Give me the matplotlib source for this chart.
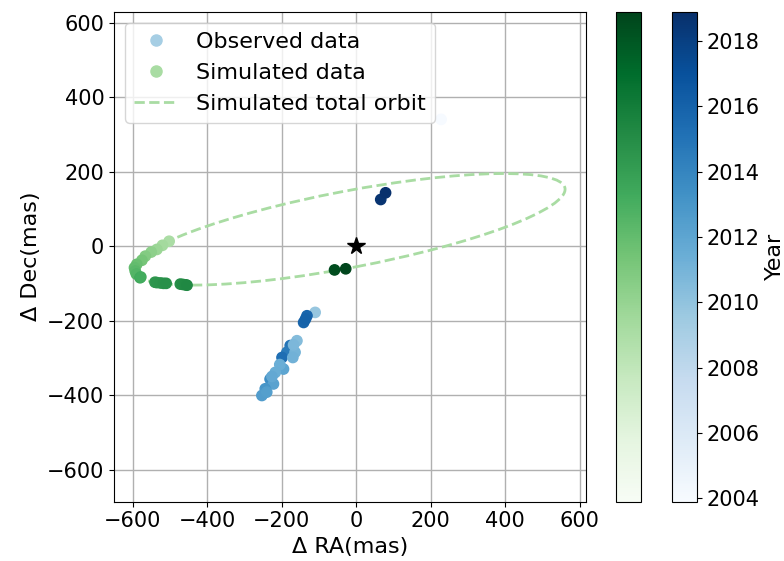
import matplotlib
matplotlib.use("Agg")
import matplotlib.pyplot as plt
from matplotlib.patches import Ellipse
from matplotlib.lines import Line2D
import numpy as np

# Observed data (Delta RA, Delta Dec in mas) with epochs
obs_ra = [-110, 228, 66, 79, -132, -141, -136, -159, -177, -186, -199, -164, -170,
          -168, -195, -205, -217, -231, -222, -244, -253, -240, -226]
obs_dec = [-178, 340, 125, 143, -187, -205, -196, -254, -267, -285, -299, -285, -299,
           -265, -330, -318, -339, -357, -370, -383, -401, -392, -350]
obs_year = [2009.8, 2004.0, 2018.6, 2018.8, 2015.8, 2015.9, 2016.0, 2010.5, 2015.0, 2014.6,
            2015.3, 2011.0, 2011.2, 2010.8, 2012.0, 2011.4, 2011.5, 2013.5, 2012.2, 2013.0,
            2012.6, 2012.4, 2011.8]

# Simulated data
sim_ra = [-502, -520, -535, -550, -566, -575, -589, -595, -593, -590, -580,
          -578, -540, -535, -525, -517, -510, -472, -465, -458, -454, -58, -28]
sim_dec = [13, 2, -9, -16, -27, -38, -49, -58, -67, -75, -85,
           -83, -97, -98, -99, -100, -100, -102, -103, -104, -105, -64, -61]
sim_year = [2009.0, 2009.4, 2009.8, 2010.3, 2010.8, 2011.3, 2011.8, 2012.0, 2012.3,
            2012.6, 2013.5, 2013.2, 2014.4, 2014.5, 2014.6, 2014.7, 2014.8, 2015.0,
            2015.1, 2015.2, 2015.3, 2018.5, 2018.8]

# Simulated total orbit (ellipse parameters, mas / degrees)
orbit_center = (-20, 45)
orbit_width = 1182
orbit_height = 205
orbit_angle = 10.8

year_min, year_max = 2003.9, 2018.89
cbar_ticks = [2004, 2006, 2008, 2010, 2012, 2014, 2016, 2018]
xticks = [-600, -400, -200, 0, 200, 400, 600]
yticks = [-600, -400, -200, 0, 200, 400, 600]

plt.rcParams['font.size'] = 15

fig = plt.figure(figsize=(7.84, 5.61), dpi=100)
ax = fig.add_axes([114/784, 1 - 501.7/561, 472/784, 490/561])
cax_g = fig.add_axes([616/784, 1 - 501.7/561, 24.7/784, 490/561])
cax_b = fig.add_axes([672/784, 1 - 501.7/561, 24.7/784, 490/561])

ax.grid(True, color='#b0b0b0', linewidth=1.0)
ax.set_axisbelow(True)

orbit_color = plt.cm.Greens(0.35)
ell = Ellipse(orbit_center, orbit_width, orbit_height, angle=orbit_angle,
              fill=False, edgecolor=orbit_color, linestyle='--', linewidth=2)
ax.add_patch(ell)

sc_obs = ax.scatter(obs_ra, obs_dec, c=obs_year, cmap='Blues', vmin=year_min,
                    vmax=year_max, s=55, label='Observed data', zorder=3)
sc_sim = ax.scatter(sim_ra, sim_dec, c=sim_year, cmap='Greens', vmin=year_min,
                    vmax=year_max, s=55, label='Simulated data', zorder=3)
ax.plot([0], [0], marker='*', color='black', markersize=13, linestyle='none', zorder=4)

ax.set_xlim(-650, 617)
ax.set_ylim(-686, 629)
ax.set_xticks(xticks)
ax.set_yticks(yticks)
ax.set_xlabel('Δ RA(mas)', fontsize=16)
ax.set_ylabel('Δ Dec(mas)', fontsize=16)

h_orbit = Line2D([], [], color=orbit_color, linestyle='--', linewidth=2)
leg_obs = Line2D([], [], marker='o', linestyle='none', markersize=8,
                 color=plt.cm.Blues(0.35))
leg_sim = Line2D([], [], marker='o', linestyle='none', markersize=8,
                 color=plt.cm.Greens(0.35))
ax.legend([leg_obs, leg_sim, h_orbit],
          ['Observed data', 'Simulated data', 'Simulated total orbit'],
          loc='upper left', fontsize=16)

cb_g = fig.colorbar(sc_sim, cax=cax_g)
cb_g.set_ticks([])
cb_b = fig.colorbar(sc_obs, cax=cax_b)
cb_b.set_ticks(cbar_ticks)
cb_b.set_label('Year', fontsize=16)

fig.savefig('out.png', dpi=100)
